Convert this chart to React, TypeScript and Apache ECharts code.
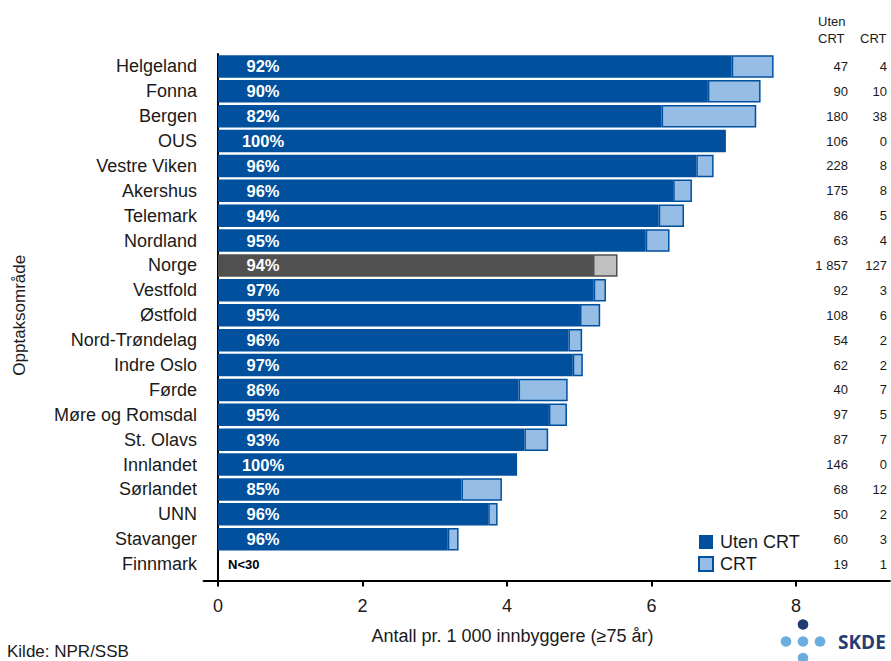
import React, { useEffect, useRef } from "react";
import * as echarts from "echarts";

const FONT = "'Liberation Sans', Arial, Helvetica, sans-serif";

const categories = [
  "Helgeland", "Fonna", "Bergen", "OUS", "Vestre Viken", "Akershus", "Telemark",
  "Nordland", "Norge", "Vestfold", "Østfold", "Nord-Trøndelag", "Indre Oslo",
  "Førde", "Møre og Romsdal", "St. Olavs", "Innlandet", "Sørlandet", "UNN",
  "Stavanger", "Finnmark",
];
const utenCrt = [7.11, 6.78, 6.14, 7.03, 6.62, 6.30, 6.10, 5.92, 5.19, 5.20, 5.01,
  4.85, 4.91, 4.16, 4.58, 4.24, 4.14, 3.37, 3.74, 3.18, null];
const crt = [0.58, 0.73, 1.31, 0, 0.24, 0.26, 0.35, 0.33, 0.34, 0.17, 0.28,
  0.19, 0.14, 0.68, 0.25, 0.33, 0, 0.56, 0.13, 0.15, null];
const pctLabels = ["92%", "90%", "82%", "100%", "96%", "96%", "94%", "95%", "94%",
  "97%", "95%", "96%", "97%", "86%", "95%", "93%", "100%", "85%", "96%", "96%", "N<30"];
const countUten = [47, 90, 180, 106, 228, 175, 86, 63, 1857, 92, 108, 54, 62, 40,
  97, 87, 146, 68, 50, 60, 19];
const countCrt = [4, 10, 38, 0, 8, 8, 5, 4, 127, 3, 6, 2, 2, 7, 5, 7, 0, 12, 2, 3, 1];
const xTicks = [0, 2, 4, 6, 8];

const NATIONAL = "Norge";
const DARK = "#00509e";
const LIGHT = "#95bde6";
const TXT = "#1a1a1a";

const fmt = (n: number) => String(n).replace(/\B(?=(\d{3})+(?!\d))/g, " ");

export default function App() {
  const ref = useRef<HTMLDivElement>(null);
  useEffect(() => {
    if (!ref.current) return;
    const chart = echarts.init(ref.current, null, { renderer: "svg" });

    const utenData = utenCrt.map((v, i) => {
      const item: any = { value: v == null ? 0 : v, label: { formatter: pctLabels[i] } };
      if (categories[i] === NATIONAL) item.itemStyle = { color: "#505050" };
      if (v == null) {
        item.label = {
          formatter: pctLabels[i], position: [10, "50%"], align: "left",
          color: "#000", fontSize: 13, fontWeight: "bold",
        };
      }
      return item;
    });
    const crtData = crt.map((v, i) => {
      if (v == null) return null;
      const item: any = { value: v };
      if (categories[i] === NATIONAL) item.itemStyle = { color: "#c0c0c0", borderColor: "#505050" };
      if (v === 0) item.itemStyle = { ...(item.itemStyle || {}), borderWidth: 0 };
      return item;
    });

    const option: any = {
      animation: false,
      textStyle: { fontFamily: FONT },
      grid: { left: 203.55, right: 1.1, top: 54, bottom: 84.5, containLabel: false, outerBoundsMode: "none" },
      legend: {
        orient: "vertical", left: 693, top: 528, itemWidth: 14, itemHeight: 14, itemGap: 4,
        icon: "rect",
        textStyle: { fontSize: 18, color: TXT, fontFamily: FONT, padding: [0, 0, 0, 2] },
        data: ["Uten CRT", "CRT"],
      },
      xAxis: {
        type: "value", min: -0.2, max: 9.3, offset: 4,
        axisLine: { show: true, lineStyle: { color: "#000", width: 2 } },
        axisTick: { show: true, length: 6, lineStyle: { color: "#000", width: 2 }, customValues: xTicks },
        axisLabel: { customValues: xTicks, fontSize: 18, color: TXT, margin: 16, fontFamily: FONT },
        splitLine: { show: false },
      },
      yAxis: [
        {
          type: "category", data: categories, inverse: true,
          axisLine: { show: true, onZero: true, lineStyle: { color: "#000", width: 2 } },
          axisTick: { show: false },
          axisLabel: { fontSize: 18, color: TXT, margin: 6.5, fontFamily: FONT },
          name: "Opptaksområde", nameLocation: "middle", nameGap: 176,
          nameTextStyle: { fontSize: 17, color: TXT, fontFamily: FONT },
        },
        {
          type: "category", data: categories, inverse: true, position: "right",
          axisLine: { show: false, onZero: false }, axisTick: { show: false },
          axisLabel: {
            inside: true, margin: 3,
            formatter: (_v: string, i: number) => `{a|${fmt(countUten[i])}}{b|${fmt(countCrt[i])}}`,
            rich: {
              a: { width: 60, align: "right", fontSize: 13, color: TXT, fontFamily: FONT },
              b: { width: 39, align: "right", fontSize: 13, color: TXT, fontFamily: FONT },
            },
          },
        },
      ],
      series: [
        {
          type: "bar", name: "Uten CRT", stack: "t", barWidth: 22.5,
          itemStyle: { color: DARK },
          label: {
            show: true, position: [45, "50%"], align: "center", verticalAlign: "middle",
            color: "#fff", fontSize: 16.5, fontWeight: "bold", fontFamily: FONT,
          },
          data: utenData,
        },
        {
          type: "bar", name: "CRT", stack: "t", barWidth: 22.5,
          itemStyle: { color: LIGHT, borderColor: DARK, borderWidth: 1.5 },
          data: crtData,
        },
      ],
      graphic: [
        { type: "line", shape: { x1: 218, y1: 575, x2: 218, y2: 581 }, style: { stroke: "#000", lineWidth: 2 } },
        { type: "text", x: 818, y: 21, style: { text: "Uten", fontSize: 13, fontFamily: FONT, fill: TXT, align: "left", verticalAlign: "middle" } },
        { type: "text", x: 818, y: 38, style: { text: "CRT", fontSize: 13, fontFamily: FONT, fill: TXT, align: "left", verticalAlign: "middle" } },
        { type: "text", x: 860, y: 38, style: { text: "CRT", fontSize: 13, fontFamily: FONT, fill: TXT, align: "left", verticalAlign: "middle" } },
        { type: "text", x: 512.5, y: 636, style: { text: "Antall pr. 1 000 innbyggere (≥75 år)", fontSize: 18, fontFamily: FONT, fill: TXT, align: "center", verticalAlign: "middle" } },
        { type: "text", x: 7, y: 651, style: { text: "Kilde: NPR/SSB", fontSize: 17, fontFamily: FONT, fill: TXT, align: "left", verticalAlign: "middle" } },
        { type: "circle", shape: { cx: 803, cy: 624.5, r: 5.3 }, style: { fill: "#1f3a70" } },
        { type: "circle", shape: { cx: 786, cy: 641.5, r: 5.3 }, style: { fill: "#6aaee0" } },
        { type: "circle", shape: { cx: 803, cy: 641.5, r: 5.3 }, style: { fill: "#6aaee0" } },
        { type: "circle", shape: { cx: 820, cy: 641.5, r: 5.3 }, style: { fill: "#6aaee0" } },
        { type: "circle", shape: { cx: 803, cy: 658, r: 5.3 }, style: { fill: "#6aaee0" } },
        { type: "text", x: 838, y: 642, style: { text: "SKDE", fontSize: 19, fontWeight: "bold", fontFamily: "'Open Sans', " + FONT, fill: "#263d72", align: "left", verticalAlign: "middle" } },
      ],
    };
    chart.setOption(option);
    return () => chart.dispose();
  }, []);
  return (
    <div
      ref={ref}
      style={{ position: "absolute", left: 0, top: 0, width: 891, height: 661, background: "#fff" }}
    />
  );
}
